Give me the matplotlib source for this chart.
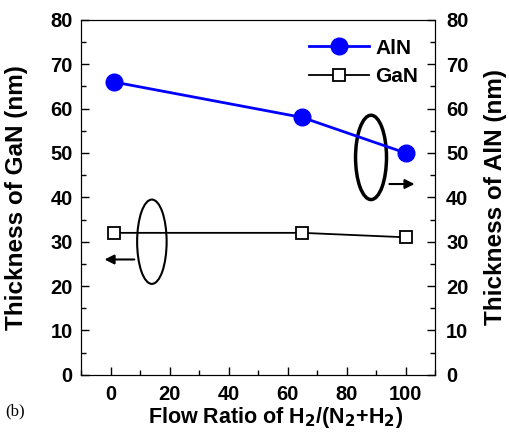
import matplotlib.pyplot as plt
from matplotlib.patches import Ellipse
from matplotlib.ticker import MultipleLocator

plt.rcParams['font.family'] = ['Liberation Sans', 'DejaVu Sans']

ratio_aln = [1, 65, 100]
thick_aln = [66, 58, 50]
ratio_gan = [1, 65, 100]
thick_gan = [32, 32, 31]

fig = plt.figure(figsize=(5.1, 4.4), dpi=100)
ax = fig.add_axes([0.159, 0.148, 0.694, 0.807])
ax2 = ax.twinx()

ax.plot(ratio_gan, thick_gan, color='black', lw=1.3, marker='s', ms=9,
        mfc='white', mec='black', mew=1.3, label='GaN', zorder=3)
ax2.plot(ratio_aln, thick_aln, color='blue', lw=2, marker='o', ms=12,
         mfc='blue', mec='blue', label='AlN', zorder=3)

for a in (ax, ax2):
    a.set_ylim(0, 80)
    a.yaxis.set_major_locator(MultipleLocator(10))
    a.yaxis.set_minor_locator(MultipleLocator(5))
    a.tick_params(which='both', direction='in', labelsize=14.5, width=1)
    a.tick_params(which='major', length=6)
    a.tick_params(which='minor', length=3.5)
    for lab in a.get_yticklabels():
        lab.set_fontweight('bold')
ax.set_xlim(-10, 110)
ax.xaxis.set_major_locator(MultipleLocator(20))
ax.xaxis.set_minor_locator(MultipleLocator(10))
for lab in ax.get_xticklabels():
    lab.set_fontweight('bold')
ax.tick_params(axis='y', right=False, pad=6)
ax.tick_params(axis='x', pad=7)
ax2.tick_params(axis='y', left=False, pad=8)

ax.set_xlabel('Flow Ratio of H$_\\mathbf{2}$/(N$_\\mathbf{2}$+H$_\\mathbf{2}$)',
              fontsize=15.5, fontweight='bold')
ax.set_ylabel('Thickness of GaN (nm)', fontsize=17.5, fontweight='bold')
ax2.set_ylabel('Thickness of AlN (nm)', fontsize=17.5, fontweight='bold')
ax.xaxis.set_label_coords(0.548, -0.085)
ax.yaxis.set_label_coords(-0.149, 0.5)
ax2.yaxis.set_label_coords(1.138, 0.5)

# ellipses and arrows marking which axis each curve uses
ax.add_patch(Ellipse((14, 30), 10, 19, fill=False, ec='black', lw=1.5))
ax.annotate('', xy=(-3, 26), xytext=(9, 26),
            arrowprops=dict(arrowstyle='-|>', color='black', lw=1.5,
                            mutation_scale=14))
ax.add_patch(Ellipse((88.3, 49), 10.5, 19, fill=False, ec='black', lw=2.5))
ax.annotate('', xy=(104, 43), xytext=(93.6, 43),
            arrowprops=dict(arrowstyle='-|>', color='black', lw=1.5,
                            mutation_scale=14))

h1, l1 = ax2.get_legend_handles_labels()
h2, l2 = ax.get_legend_handles_labels()
ax2.legend(h1 + h2, l1 + l2, loc='upper right', frameon=False,
           prop={'weight': 'bold', 'size': 15}, handlelength=2.9,
           bbox_to_anchor=(1.005, 1.0), labelspacing=0.45, handletextpad=0.3)

fig.text(0.01, 0.055, '(b)', fontsize=12, family='Liberation Serif')

fig.savefig('out.png', dpi=100)
